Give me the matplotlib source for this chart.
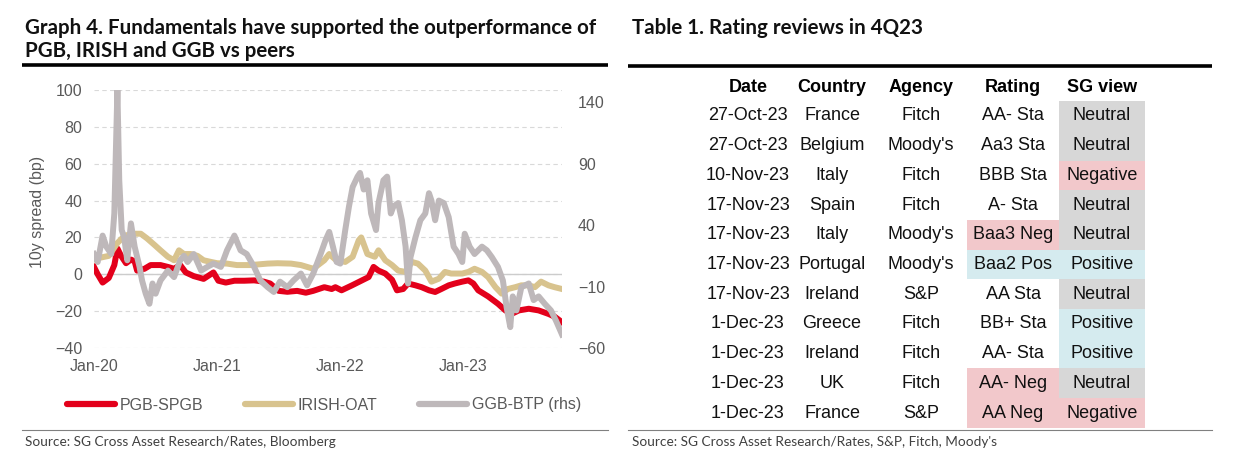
import matplotlib
matplotlib.use("Agg")
import matplotlib.pyplot as plt
from matplotlib.patches import Rectangle
from matplotlib.lines import Line2D
import numpy as np

# ---------------- data ----------------
# time in years since Jan-2020
red_t = [0.00,0.03,0.07,0.12,0.165,0.19,0.22,0.26,0.30,0.33,0.35,0.41,0.46,0.54,0.60,0.65,0.70,0.745,0.81,0.89,
         0.97,1.01,1.07,1.14,1.22,1.30,1.38,1.43,1.50,1.57,1.65,1.72,1.78,1.87,1.93,1.96,2.01,2.095,2.176,2.23,
         2.27,2.31,2.365,2.42,2.46,2.51,2.55,2.61,2.66,2.72,2.77,2.82,2.88,2.93,2.99,3.04,3.08,3.12,3.20,3.28,
         3.34,3.39,3.45,3.53,3.61,3.69,3.74,3.80]
red_v = [4,0,-4.5,-2,5,14,10,6,8,7,2,3,5,5,4,3,5,1,-1,-2.5,
         1,-3.5,-4.5,-3.5,-3.5,-3.3,-4,-5,-9,-9.5,-9,-10,-9,-7,-8,-7,-8.7,-6,-3.3,-1.5,
         4,2,0.4,-3,-8.7,-8,-5,-6,-7,-8.7,-9.6,-8,-6,-5,-4,-3.3,-5,-8.7,-12,-16,
         -19.6,-21.5,-19.6,-18.7,-19.6,-21.5,-23,-26]

tan_t = [0.00,0.05,0.12,0.19,0.25,0.33,0.38,0.43,0.49,0.54,0.60,0.65,0.69,0.73,0.785,0.84,0.89,0.95,1.00,1.08,
         1.16,1.27,1.41,1.49,1.60,1.68,1.78,1.87,1.91,1.96,2.04,2.10,2.15,2.17,2.22,2.28,2.31,2.365,2.42,2.47,
         2.53,2.58,2.63,2.69,2.74,2.80,2.85,2.90,2.99,3.04,3.09,3.15,3.20,3.26,3.31,3.36,3.42,3.47,3.53,3.58,
         3.63,3.69,3.74,3.80]
tan_v = [8,9,10,17,21,22,22,19.5,16,13,9.5,7.6,13,11,11,10,7.6,6.7,6,5.8,
         5,5,5.8,6,5.8,5,3,7.6,11,8,6.7,9.5,18.5,20,11,9.5,13,7.6,5,2,
         1.3,6.7,5.8,2,-4,-2.4,1.3,0.4,0.4,1.3,3,1.3,-1.5,-7,-10.5,-8,-7,-6,-6,-7,
         -4,-6,-7,-8]

gray_t = [0.00,0.03,0.07,0.10,0.14,0.165,0.19,0.205,0.225,0.245,
          0.27,0.30,0.33,0.37,0.39,0.42,0.45,0.475,0.50,0.54,
          0.60,0.65,0.70,0.73,0.76,0.81,0.87,0.92,0.97,1.03,
          1.08,1.14,1.19,1.24,1.30,1.35,1.41,1.46,1.51,1.57,
          1.62,1.68,1.73,1.78,1.84,1.88,1.91,1.94,1.97,2.00,
          2.04,2.07,2.10,2.14,2.16,2.19,2.22,2.25,2.29,2.31,
          2.35,2.38,2.41,2.43,2.47,2.50,2.53,2.55,2.57,2.61,
          2.65,2.69,2.72,2.74,2.77,2.80,2.84,2.88,2.92,2.96,
          2.99,3.01,3.05,3.09,3.15,3.19,3.23,3.28,3.32,3.35,
          3.38,3.40,3.43,3.47,3.53,3.57,3.61,3.66,3.71,3.75,3.80]
gray_v = [16.5,10,31.5,22.5,16.5,49.5,150,76.5,36,30,
          11.4,41.4,22.5,6,-5,-15.8,-24,-7.5,-15.8,-5,
          3,-2.3,11.4,15,10,16.5,3,6,8.7,6,
          19.5,31.5,19.5,16.5,6,-5,-10.5,-14.4,-6,-10.5,
          -5,0.6,-9,0.6,16.5,27.8,34.5,22.5,10,8.7,
          36,55,71,79.5,82.5,69,76.5,49.5,36,58,
          76.5,79.5,49.5,55,58,44,22.5,-7.5,14,30,
          44,49.5,66,60,44,60,58,46.5,22.5,16.5,
          10,33,22.5,16.5,22.5,19.5,14,6,-5,-26.7,
          -43,-18,-29.4,-10.5,-7.5,-21,-18,-24,-29.4,-37.5,-49]

series_names = ["PGB-SPGB", "IRISH-OAT", "GGB-BTP (rhs)"]
x_tick_years = [2020, 2021, 2022, 2023]
x_tick_labels = ["Jan-20", "Jan-21", "Jan-22", "Jan-23"]
left_ticks = [-40, -20, 0, 20, 40, 60, 80, 100]
right_ticks = [-60, -10, 40, 90, 140]

tbl_header = ["Date", "Country", "Agency", "Rating", "SG view"]
tbl_dates = ["27-Oct-23","27-Oct-23","10-Nov-23","17-Nov-23","17-Nov-23","17-Nov-23",
             "17-Nov-23","1-Dec-23","1-Dec-23","1-Dec-23","1-Dec-23"]
tbl_countries = ["France","Belgium","Italy","Spain","Italy","Portugal","Ireland","Greece","Ireland","UK","France"]
tbl_agencies = ["Fitch","Moody's","Fitch","Fitch","Moody's","Moody's","S&P","Fitch","Fitch","Fitch","S&P"]
tbl_ratings = ["AA- Sta","Aa3 Sta","BBB Sta","A- Sta","Baa3 Neg","Baa2 Pos","AA Sta","BB+ Sta","AA- Sta","AA- Neg","AA Neg"]
tbl_views = ["Neutral","Neutral","Negative","Neutral","Neutral","Positive","Neutral","Positive","Positive","Neutral","Negative"]

# ---------------- style ----------------
RED, TAN, GRAY = "#E3001B", "#D8C38E", "#BEB8BA"
PINK, BLUE, LGRAY = "#F2C8CB", "#D5EBEF", "#D7D7D7"
TXT = "#595959"
AX_FONT = "Liberation Sans"

W, H = 1248, 467
fig = plt.figure(figsize=(W / 100, H / 100), dpi=100)

# overlay for titles / table (pixel coordinates)
ov = fig.add_axes([0, 0, 1, 1])
ov.set_xlim(0, W)
ov.set_ylim(H, 0)
ov.axis("off")
ov.patch.set_visible(False)

renderer = fig.canvas.get_renderer()

def fit_text(x, y, s, width_px, **kw):
    t = ov.text(x, y, s, **kw)
    bb = t.get_window_extent(renderer=renderer)
    t.set_fontsize(t.get_fontsize() * width_px / bb.width)
    return t

# titles
t1 = fit_text(25, 28, "Graph 4. Fundamentals have supported the outperformance of", 575,
              fontsize=14, fontweight="bold", family="Lato", va="center", ha="left", color="#111111")
tsize = t1.get_fontsize()
ov.text(25, 51, "PGB, IRISH and GGB vs peers", fontsize=tsize, fontweight="bold", family="Lato",
        va="center", ha="left", color="#111111")
ov.text(632, 28, "Table 1. Rating reviews in 4Q23", fontsize=tsize, fontweight="bold", family="Lato",
        va="center", ha="left", color="#111111")

# rules
ov.plot([22, 608], [65, 65], color="black", lw=2.6, solid_capstyle="butt")
ov.plot([628, 1212], [66, 66], color="black", lw=2.6, solid_capstyle="butt")
ov.plot([22, 608], [430, 430], color="#808080", lw=0.8)
ov.plot([628, 1212], [430, 430], color="#808080", lw=0.8)

# sources
s1 = fit_text(25, 442, "Source: SG Cross Asset Research/Rates, Bloomberg", 310,
              fontsize=10, family="Lato", va="center", ha="left", color="#404040")
ov.text(632, 442, "Source: SG Cross Asset Research/Rates, S&P, Fitch, Moody's", fontsize=s1.get_fontsize(),
        family="Lato", va="center", ha="left", color="#404040")

# ---------------- table ----------------
col_x = [748, 832, 921, 1013, 1102]
rate_box = (967, 1059)
view_box = (1059, 1145)
row_h = 29.7
y0 = 116
TFS = 13
for cx, h in zip(col_x, tbl_header):
    ov.text(cx, 87, h, ha="center", va="center", fontsize=TFS, fontweight="bold", family=AX_FONT, color="black")

view_col = {"Neutral": LGRAY, "Negative": PINK, "Positive": BLUE}
for i in range(len(tbl_dates)):
    yc = y0 + i * row_h
    r = tbl_ratings[i]
    rc = PINK if r.endswith("Neg") else (BLUE if r.endswith("Pos") else None)
    if rc:
        ov.add_patch(Rectangle((rate_box[0], yc - row_h / 2), rate_box[1] - rate_box[0], row_h,
                               facecolor=rc, edgecolor="none"))
    ov.add_patch(Rectangle((view_box[0], yc - row_h / 2), view_box[1] - view_box[0], row_h,
                           facecolor=view_col[tbl_views[i]], edgecolor="none"))
    for cx, s in zip(col_x, [tbl_dates[i], tbl_countries[i], tbl_agencies[i], r, tbl_views[i]]):
        ov.text(cx, yc, s, ha="center", va="center", fontsize=TFS, family=AX_FONT, color="#111111")

# ---------------- chart ----------------
ax = fig.add_axes([94 / W, 1 - 348 / H, (562 - 94) / W, (348 - 90) / H])
ax.set_xlim(2020.0, 2023.80)
ax.set_ylim(-40, 100)
ax.set_yticks(left_ticks)
ax.set_xticks(x_tick_years)
ax.set_xticklabels(x_tick_labels)
ax.grid(axis="y", color="#D9D9D9", linestyle=(0, (4, 3)), lw=0.8)
ax.grid(axis="x", visible=False)
ax.set_axisbelow(True)
ax.axhline(0, color="#CCCCCC", lw=1.0, zorder=1)

ax2 = ax.twinx()
ax2.set_ylim(-60, 150)
ax2.set_yticks(right_ticks)

lw = 4.3
ax.plot(np.array(red_t) + 2020, red_v, color=RED, lw=lw, solid_joinstyle="round", zorder=2)
ax.plot(np.array(tan_t) + 2020, tan_v, color=TAN, lw=lw, solid_joinstyle="round", zorder=3)
ax2.plot(np.array(gray_t) + 2020, gray_v, color=GRAY, lw=lw, solid_joinstyle="round", zorder=4)

for a in (ax, ax2):
    for sp in a.spines.values():
        sp.set_visible(False)
ax.tick_params(axis="y", length=0, pad=8.5, labelsize=11.5, labelcolor=TXT)
ax.tick_params(axis="x", length=0, pad=8, labelsize=11.5, labelcolor=TXT)
ax2.tick_params(axis="y", length=0, pad=11.5, labelsize=11.5, labelcolor=TXT)
for lab in ax.get_xticklabels() + ax.get_yticklabels() + ax2.get_yticklabels():
    lab.set_family(AX_FONT)

ax.set_ylabel("10y spread (bp)", fontsize=11.5, color=TXT, family=AX_FONT)
ax.yaxis.set_label_coords(-0.105, 0.527)

handles = [Line2D([], [], color=c, lw=4.5, solid_capstyle="round") for c in (RED, TAN, GRAY)]
fig.legend(handles, series_names, loc="center", bbox_to_anchor=(324 / W, 1 - 405 / H), ncol=3,
           frameon=False, handlelength=3.0, handletextpad=0.3, columnspacing=2.6,
           prop={"family": AX_FONT, "size": 11.5}, labelcolor=TXT)

fig.savefig("out.png", dpi=100)
